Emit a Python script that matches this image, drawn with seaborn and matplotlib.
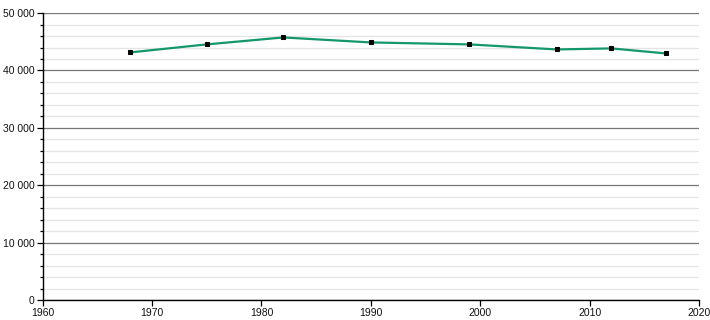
import matplotlib
matplotlib.use("Agg")
import matplotlib.pyplot as plt
import seaborn as sns
import pandas as pd
from matplotlib.ticker import MultipleLocator, FuncFormatter

years = [1968, 1975, 1982, 1990, 1999, 2007, 2012, 2017]
population = [43150, 44550, 45760, 44890, 44550, 43670, 43850, 42970]

df = pd.DataFrame({"year": years, "population": population})

sns.set_style("white")
plt.rcParams['font.family'] = ['Liberation Sans', 'DejaVu Sans']

fig = plt.figure(figsize=(7.1, 3.2), dpi=100)
ax = fig.add_axes([0.06, 0.0625, 0.9245, 0.8965])

sns.lineplot(data=df, x="year", y="population", ax=ax, color="#15976c",
             linewidth=1.6, marker="s", markersize=3.3, markerfacecolor="black",
             markeredgecolor="black", zorder=3)

ax.set_xlim(1960, 2020)
ax.set_ylim(0, 50000)
ax.yaxis.set_major_locator(MultipleLocator(10000))
ax.yaxis.set_minor_locator(MultipleLocator(2000))
ax.xaxis.set_major_locator(MultipleLocator(10))
ax.yaxis.set_major_formatter(FuncFormatter(lambda v, p: f"{int(v):,}".replace(",", " ")))

ax.grid(which="major", axis="y", color="#777777", linewidth=0.9)
ax.grid(which="minor", axis="y", color="#e4e4e4", linewidth=0.9)
ax.grid(which="major", axis="x", visible=False)
ax.set_axisbelow(True)

for s in ["top", "right"]:
    ax.spines[s].set_visible(False)
for s in ["left", "bottom"]:
    ax.spines[s].set_color("black")
    ax.spines[s].set_linewidth(1.0)

ax.tick_params(axis="both", which="major", direction="out", length=4, width=0.9,
               color="black", labelcolor="#111111", labelsize=7.5, pad=2,
               left=True, bottom=True)
ax.tick_params(axis="y", which="minor", direction="out", length=2, width=0.9,
               color="black", left=True)
ax.set_xlabel("")
ax.set_ylabel("")

fig.savefig("out.png", dpi=100)
